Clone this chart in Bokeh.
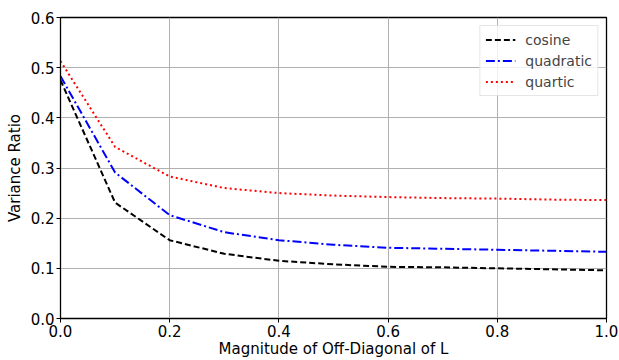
from bokeh.plotting import figure
from bokeh.embed import file_html
from bokeh.resources import INLINE
from bokeh.models import Range1d, FixedTicker, Legend, LegendItem, PrintfTickFormatter

x = [0.0, 0.1, 0.2, 0.3, 0.4, 0.5, 0.6, 0.7, 0.8, 0.9, 1.0]
cosine = [0.475, 0.231, 0.156, 0.129, 0.115, 0.108, 0.103, 0.102, 0.100, 0.098, 0.096]
quadratic = [0.483, 0.291, 0.206, 0.172, 0.156, 0.147, 0.141, 0.139, 0.137, 0.135, 0.133]
quartic = [0.513, 0.342, 0.283, 0.260, 0.250, 0.245, 0.242, 0.240, 0.239, 0.237, 0.236]
x_ticks = [0.0, 0.2, 0.4, 0.6, 0.8, 1.0]
y_ticks = [0.0, 0.1, 0.2, 0.3, 0.4, 0.5, 0.6]

FONT = "DejaVu Sans"

p = figure(width=619, height=360, output_backend="svg", toolbar_location=None,
           x_range=Range1d(0, 1), y_range=Range1d(0, 0.6),
           min_border_left=60, min_border_top=17, min_border_right=13, min_border_bottom=41)

p.outline_line_color = "black"
p.outline_line_width = 1.3
p.background_fill_color = "white"
p.border_fill_color = "white"

for ax in (p.xaxis[0], p.yaxis[0]):
    ax.major_label_text_font = FONT
    ax.major_label_text_font_size = "15px"
    ax.major_label_text_color = "black"
    ax.axis_label_text_font = FONT
    ax.axis_label_text_font_size = "15px"
    ax.axis_label_text_font_style = "normal"
    ax.axis_label_text_color = "black"
    ax.major_tick_out = 4
    ax.major_tick_in = 0
    ax.minor_tick_out = 0
    ax.minor_tick_in = 0
    ax.axis_line_color = "black"
    ax.major_tick_line_color = "black"
    ax.major_label_standoff = 2
    ax.formatter = PrintfTickFormatter(format="%.1f")

p.xaxis[0].ticker = FixedTicker(ticks=x_ticks)
p.yaxis[0].ticker = FixedTicker(ticks=y_ticks)
p.xaxis[0].axis_label = "Magnitude of Off-Diagonal of L"
p.yaxis[0].axis_label = "Variance Ratio"
p.xaxis[0].axis_label_standoff = 0
p.yaxis[0].axis_label_standoff = 4

p.xgrid.grid_line_color = "#b0b0b0"
p.ygrid.grid_line_color = "#b0b0b0"
p.xgrid.grid_line_width = 1
p.ygrid.grid_line_width = 1

r1 = p.line(x, cosine, line_color="black", line_width=2, line_dash="6 3")
r2 = p.line(x, quadratic, line_color="blue", line_width=2, line_dash="9 3 2 3")
r3 = p.line(x, quartic, line_color="red", line_width=2, line_dash="2 3")

legend = Legend(items=[LegendItem(label="cosine", renderers=[r1]),
                       LegendItem(label="quadratic", renderers=[r2]),
                       LegendItem(label="quartic", renderers=[r3])],
                location="top_right")
legend.label_text_font = FONT
legend.label_text_font_size = "14px"
legend.label_height = 17
legend.glyph_height = 17
legend.glyph_width = 30
legend.spacing = 4
legend.padding = 5
legend.margin = 8
legend.label_standoff = 10
legend.border_line_color = "#cccccc"
legend.border_line_width = 1
legend.background_fill_alpha = 0.8
p.add_layout(legend)

open("out.html", "w").write(file_html(p, INLINE))
